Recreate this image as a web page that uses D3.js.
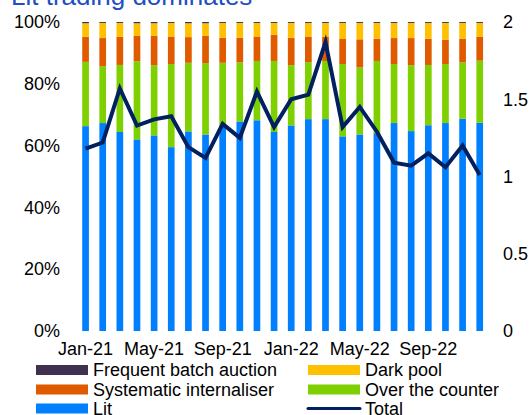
<!DOCTYPE html>
<html>
<head>
<meta charset="utf-8">
<script src="https://cdn.jsdelivr.net/npm/d3@7"></script>
<style>
  html, body { margin: 0; padding: 0; background: #fff; }
  svg { display: block; font-family: "Liberation Sans", Arial, sans-serif; }
</style>
</head>
<body>
<svg id="chart" width="531" height="415"></svg>
<script>
const months = ["Jan-21","Feb-21","Mar-21","Apr-21","May-21","Jun-21","Jul-21","Aug-21","Sep-21","Oct-21","Nov-21","Dec-21",
                "Jan-22","Feb-22","Mar-22","Apr-22","May-22","Jun-22","Jul-22","Aug-22","Sep-22","Oct-22","Nov-22","Dec-22"];
const tickLabels = ["Jan-21","May-21","Sep-21","Jan-22","May-22","Sep-22"];
const lit = [66.3,67.3,64.4,62.0,63.3,59.5,64.6,63.6,66.6,67.9,68.2,64.4,66.6,68.5,68.5,63.0,63.6,64.0,67.3,64.7,66.6,67.3,68.7,67.3];
const otc = [20.8,18.4,21.7,25.3,22.7,26.9,22.2,23.1,20.2,19.1,19.2,23.0,19.5,18.4,18.8,23.4,21.7,23.4,19.1,21.3,19.5,19.1,18.2,20.1];
const si  = [8.1,9.1,9.1,8.2,9.5,8.9,8.3,8.8,8.1,8.0,7.9,8.5,8.9,8.3,7.9,8.1,9.1,7.2,8.4,8.8,8.5,7.9,7.7,7.8];
const dp  = [4.4,4.9,4.5,4.1,4.1,4.4,4.5,4.1,4.8,4.8,4.4,3.8,4.8,4.4,4.4,5.2,5.3,5.1,4.9,4.9,5.1,5.4,5.1,4.4];
const fba = [0.4,0.3,0.3,0.4,0.4,0.3,0.4,0.4,0.3,0.3,0.3,0.3,0.3,0.3,0.3,0.3,0.3,0.3,0.3,0.3,0.3,0.3,0.3,0.3];
const total = [1.18,1.22,1.57,1.33,1.37,1.39,1.19,1.12,1.34,1.25,1.55,1.32,1.50,1.53,1.87,1.32,1.45,1.29,1.09,1.07,1.15,1.06,1.20,1.01];
const leftTicks = [0,0.2,0.4,0.6,0.8,1];
const rightTicks = [0,0.5,1,1.5,2];

const seriesKeys = ["lit","otc","si","dp","fba"];
const seriesNames = {lit:"Lit", otc:"Over the counter", si:"Systematic internaliser", dp:"Dark pool", fba:"Frequent batch auction"};
const colors = {lit:"#0080FF", otc:"#7FD000", si:"#E05A00", dp:"#FFC000", fba:"#403151"};
const lineColor = "#002060";

const table = months.map((m,i)=>({month:m, lit:lit[i], otc:otc[i], si:si[i], dp:dp[i], fba:fba[i], total:total[i]}));

const svg = d3.select("#chart");
const x = d3.scaleBand().domain(months).range([77, 488.3]).paddingInner(0.61).paddingOuter(0.305);
const y = d3.scaleLinear().domain([0,1]).range([331, 22]);
const y2 = d3.scaleLinear().domain([0,2]).range([331, 22]);

// Title (partly cut off at top, as in the reference)
svg.append("text").attr("x", 11).attr("y", 5).attr("font-size", 26).attr("fill", "#1F4FC0").text("Lit trading dominates");

const stack = d3.stack().keys(seriesKeys).offset(d3.stackOffsetExpand);
const layers = stack(table);

svg.append("g").selectAll("g").data(layers).join("g")
  .attr("fill", d => colors[d.key])
  .selectAll("rect").data(d => d).join("rect")
  .attr("x", d => x(d.data.month))
  .attr("width", x.bandwidth())
  .attr("y", d => y(d[1]))
  .attr("height", d => y(d[0]) - y(d[1]));

// Line
const line = d3.line().x(d => x(d.month) + x.bandwidth()/2).y(d => y2(d.total));
svg.append("path").datum(table).attr("d", line)
  .attr("fill","none").attr("stroke", lineColor).attr("stroke-width", 4).attr("stroke-linejoin","miter");

// Left axis
const leftAxis = d3.axisLeft(y).tickValues(leftTicks).tickFormat(d3.format(".0%")).tickSize(0).tickPadding(0);
const gl = svg.append("g").attr("transform","translate(60,0)").call(leftAxis);
gl.select(".domain").remove();
gl.selectAll("text").attr("font-size", 18).attr("font-family", "Liberation Sans, Arial, sans-serif").attr("fill","#000");

// Right axis
const rightAxis = d3.axisRight(y2).tickValues(rightTicks).tickFormat(d3.format("~g")).tickSize(0).tickPadding(0);
const gr = svg.append("g").attr("transform","translate(503,0)").call(rightAxis);
gr.select(".domain").remove();
gr.selectAll("text").attr("font-size", 18).attr("font-family", "Liberation Sans, Arial, sans-serif").attr("fill","#000");

// Bottom axis
const bottomAxis = d3.axisBottom(x).tickValues(tickLabels).tickSize(0).tickPadding(0);
const gb = svg.append("g").attr("transform","translate(0,342)").call(bottomAxis);
gb.select(".domain").remove();
gb.selectAll("text").attr("font-size", 18).attr("font-family", "Liberation Sans, Arial, sans-serif").attr("fill","#000").attr("dy","0.71em");

// Legend
const legendItems = [
  {key:"fba", col:0, row:0, type:"rect"},
  {key:"dp", col:1, row:0, type:"rect"},
  {key:"si", col:0, row:1, type:"rect"},
  {key:"otc", col:1, row:1, type:"rect"},
  {key:"lit", col:0, row:2, type:"rect"},
  {key:"total", col:1, row:2, type:"line"}
];
const colX = [36, 308];
const rowY = [370, 389.5, 408.5];
const lg = svg.append("g");
legendItems.forEach(it => {
  const gx = colX[it.col], gy = rowY[it.row];
  if (it.type === "rect") {
    lg.append("rect").attr("x", gx).attr("y", gy - 5).attr("width", 52).attr("height", 10).attr("fill", colors[it.key]);
  } else {
    lg.append("line").attr("x1", gx).attr("x2", gx + 52).attr("y1", gy).attr("y2", gy)
      .attr("stroke", lineColor).attr("stroke-width", 3).attr("stroke-linecap","round");
  }
  lg.append("text").attr("x", gx + 57).attr("y", gy).attr("dy","0.35em").attr("font-size", 18).attr("fill","#000")
    .text(it.key === "total" ? "Total" : seriesNames[it.key]);
});
</script>
</body>
</html>
